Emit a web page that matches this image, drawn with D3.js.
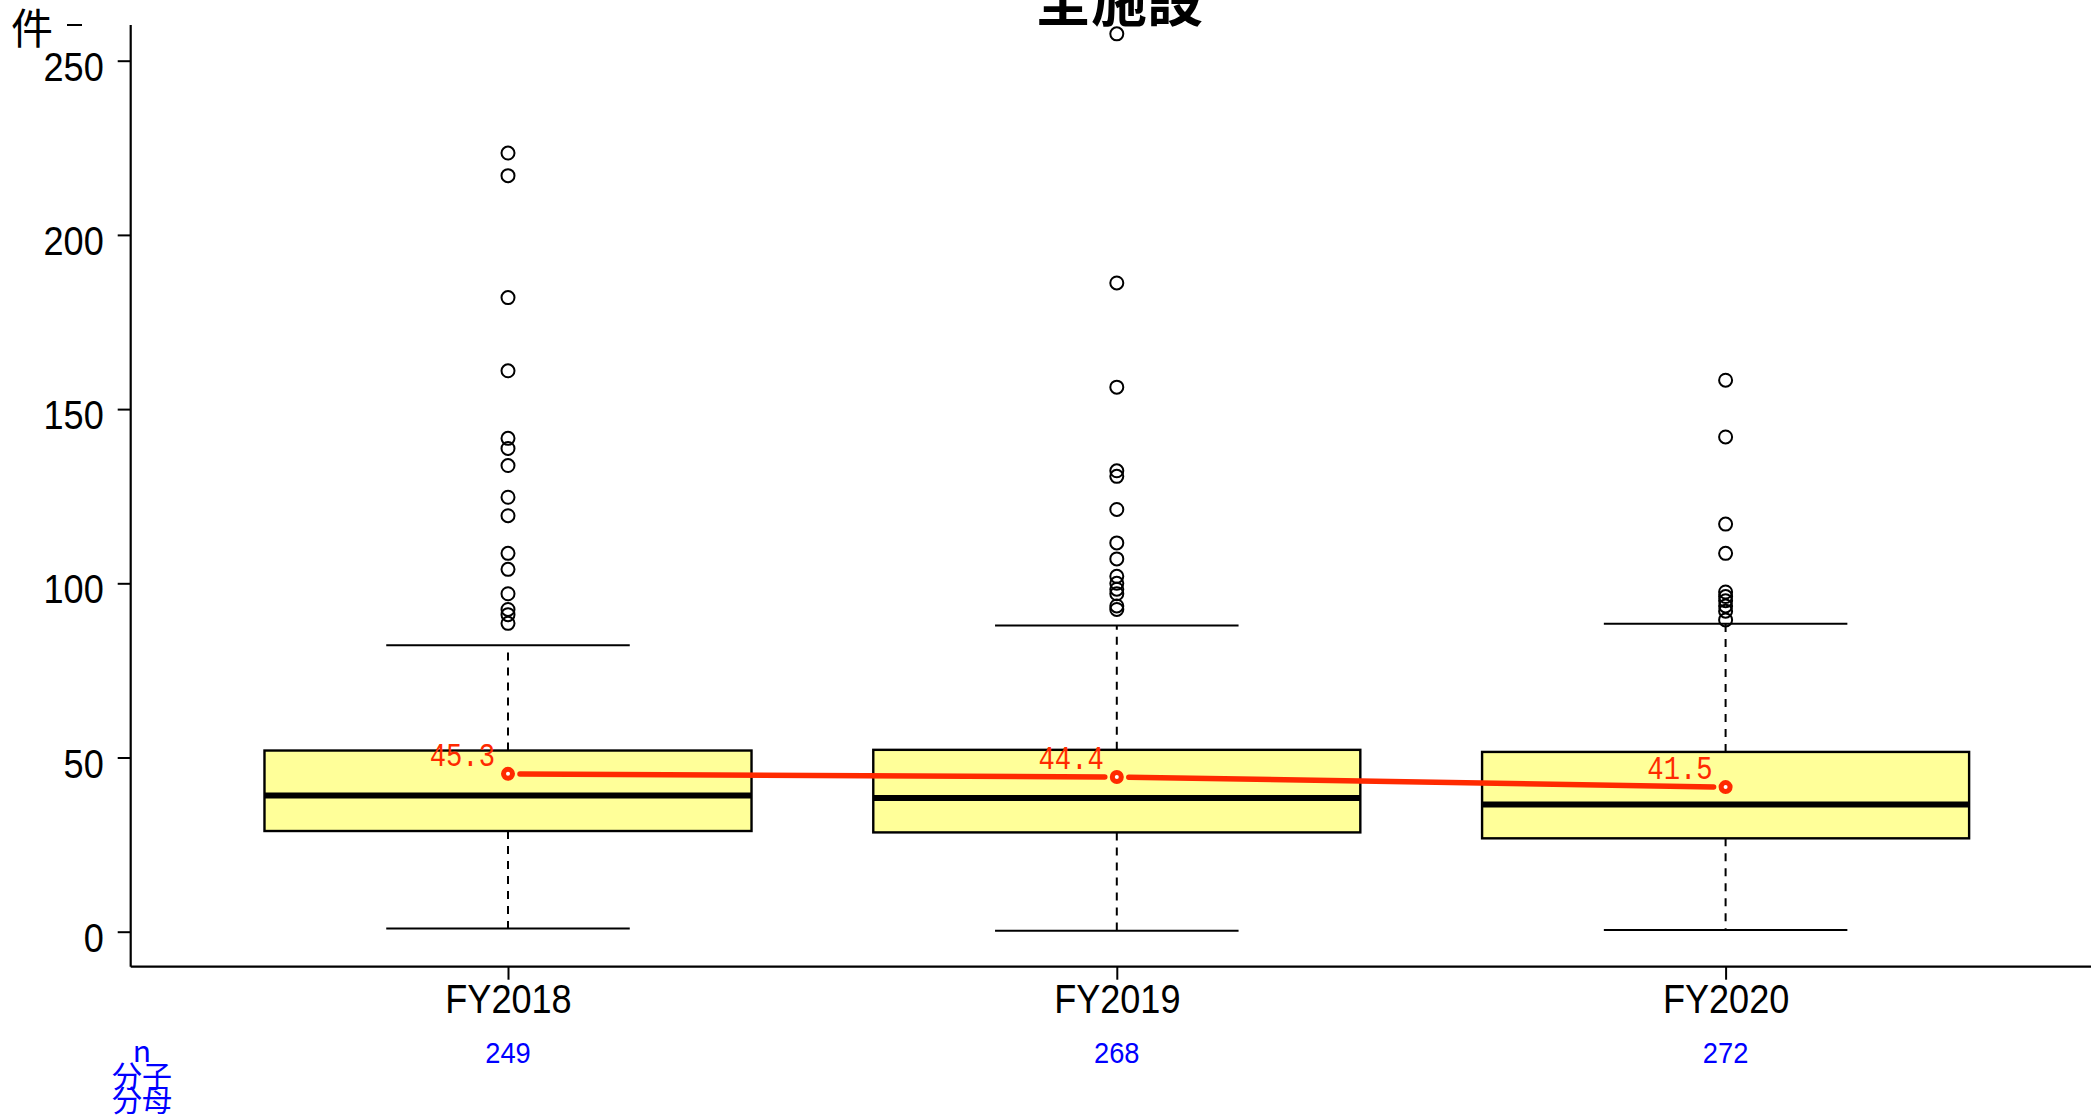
<!DOCTYPE html>
<html>
<head>
<meta charset="utf-8">
<script src="https://cdn.jsdelivr.net/npm/d3@7"></script>
<style>
  html, body { margin: 0; padding: 0; background: #ffffff; }
  svg { display: block; }
</style>
</head>
<body>
<svg id="chart" width="2091" height="1118"></svg>
<script>
// ---- data ----
const categories = ["FY2018", "FY2019", "FY2020"];
const q1Values = [28.9, 28.5, 26.8];
const medianValues = [39.1, 38.4, 36.5];
const q3Values = [52.0, 52.2, 51.6];
const whiskerLow = [0.9, 0.3, 0.5];
const whiskerHigh = [82.2, 87.9, 88.4];
const meanValues = [45.3, 44.4, 41.5];
const nCounts = [249, 268, 272];
const outliersFY2018 = [223.5, 217.0, 182.0, 161.0, 141.6, 138.7, 133.8, 124.7, 119.4, 108.6, 104.0, 97.0, 92.5, 91.0, 88.5];
const outliersFY2019 = [257.7, 186.2, 156.3, 132.3, 130.7, 121.2, 111.6, 107.0, 102.0, 100.0, 98.3, 97.0, 93.5, 92.5];
const outliersFY2020 = [158.3, 142.0, 117.0, 108.6, 97.5, 96.2, 95.0, 93.5, 92.0, 89.5];
const yTicks = [0, 50, 100, 150, 200, 250];
const titleText = "全施設";
const yLabel = "件";
const rowLabels = ["n", "分子", "分母"];

// ---- layout ----
const svg = d3.select("#chart");
svg.append("rect").attr("width", 2091).attr("height", 1118).attr("fill", "#fff");

const x = d3.scaleLinear().domain([1, 3]).range([508, 1725.6]);
const y = d3.scaleLinear().domain([0, 250]).range([931.7, 60.7]);
const axisX = 130.7, axisY = 966.7;
const red = "#ff2a00";

const boxes = categories.map((c, i) => ({
  c, i, pos: i + 1,
  q1: q1Values[i], med: medianValues[i], q3: q3Values[i],
  lo: whiskerLow[i], hi: whiskerHigh[i], mean: meanValues[i], n: nCounts[i]
}));
const outlierSets = [outliersFY2018, outliersFY2019, outliersFY2020];
const outliers = [];
outlierSets.forEach((arr, i) => arr.forEach(v => outliers.push({ pos: i + 1, v })));

// axes lines (L-shaped box)
svg.append("line").attr("x1", axisX).attr("x2", axisX).attr("y1", 25).attr("y2", axisY)
  .attr("stroke", "#000").attr("stroke-width", 2.2);
svg.append("line").attr("x1", axisX).attr("x2", 2091).attr("y1", axisY).attr("y2", axisY)
  .attr("stroke", "#000").attr("stroke-width", 2.2);

// y axis
const gy = svg.append("g").attr("transform", `translate(${axisX},0)`)
  .call(d3.axisLeft(y).tickValues(yTicks).tickSize(13).tickSizeOuter(0).tickFormat(d3.format("d")));
gy.select(".domain").remove();
gy.selectAll(".tick line").attr("stroke", "#000").attr("stroke-width", 2);
gy.selectAll(".tick text")
  .attr("x", 0).attr("dy", null).attr("y", 0)
  .attr("transform", "translate(-27,19.5) scale(0.88,1)")
  .attr("text-anchor", "end")
  .style("font-family", "'Liberation Sans', Arial, sans-serif")
  .style("font-size", "41px").attr("fill", "#000");

// x axis
const gx = svg.append("g").attr("transform", `translate(0,${axisY})`)
  .call(d3.axisBottom(x).tickValues([1, 2, 3]).tickSize(13).tickSizeOuter(0)
    .tickFormat(d => categories[d - 1]));
gx.select(".domain").remove();
gx.selectAll(".tick line").attr("stroke", "#000").attr("stroke-width", 2);
gx.selectAll(".tick text")
  .attr("y", 0).attr("dy", null)
  .attr("transform", "translate(0,46) scale(0.88,1)")
  .attr("text-anchor", "middle")
  .style("font-family", "'Liberation Sans', Arial, sans-serif")
  .style("font-size", "41px").attr("fill", "#000");

// y label "件" and the small dash
svg.append("text").attr("x", 11).attr("y", 44).text(yLabel)
  .style("font-family", "'Noto Sans CJK JP', sans-serif").style("font-size", "42px").attr("fill", "#000");
svg.append("line").attr("x1", 67).attr("x2", 82).attr("y1", 25).attr("y2", 25)
  .attr("stroke", "#000").attr("stroke-width", 2);

// title
svg.append("text").attr("x", 1119).attr("y", 21).attr("text-anchor", "middle").text(titleText)
  .style("font-family", "'Noto Sans CJK JP', sans-serif").style("font-weight", "bold")
  .style("font-size", "56px").attr("fill", "#000");

// whiskers
const g = svg.append("g");
g.selectAll(".wlo").data(boxes).join("line")
  .attr("x1", d => x(d.pos)).attr("x2", d => x(d.pos))
  .attr("y1", d => y(d.q1)).attr("y2", d => y(d.lo))
  .attr("stroke", "#000").attr("stroke-width", 2).attr("stroke-dasharray", "8,7");
g.selectAll(".whi").data(boxes).join("line")
  .attr("x1", d => x(d.pos)).attr("x2", d => x(d.pos))
  .attr("y1", d => y(d.q3)).attr("y2", d => y(d.hi))
  .attr("stroke", "#000").attr("stroke-width", 2).attr("stroke-dasharray", "8,7");
g.selectAll(".clo").data(boxes).join("line")
  .attr("x1", d => x(d.pos - 0.2)).attr("x2", d => x(d.pos + 0.2))
  .attr("y1", d => y(d.lo)).attr("y2", d => y(d.lo))
  .attr("stroke", "#000").attr("stroke-width", 2);
g.selectAll(".chi").data(boxes).join("line")
  .attr("x1", d => x(d.pos - 0.2)).attr("x2", d => x(d.pos + 0.2))
  .attr("y1", d => y(d.hi)).attr("y2", d => y(d.hi))
  .attr("stroke", "#000").attr("stroke-width", 2);

// boxes
g.selectAll(".box").data(boxes).join("rect")
  .attr("x", d => x(d.pos - 0.4)).attr("width", d => x(d.pos + 0.4) - x(d.pos - 0.4))
  .attr("y", d => y(d.q3)).attr("height", d => y(d.q1) - y(d.q3))
  .attr("fill", "#ffff99").attr("stroke", "#000").attr("stroke-width", 2.4);
g.selectAll(".med").data(boxes).join("line")
  .attr("x1", d => x(d.pos - 0.4)).attr("x2", d => x(d.pos + 0.4))
  .attr("y1", d => y(d.med)).attr("y2", d => y(d.med))
  .attr("stroke", "#000").attr("stroke-width", 6);

// outliers
g.selectAll(".out").data(outliers).join("circle")
  .attr("cx", d => x(d.pos)).attr("cy", d => y(d.v)).attr("r", 6.5)
  .attr("fill", "none").attr("stroke", "#000").attr("stroke-width", 2);

// mean line (type "b": segments with gaps)
const gap = 12;
const segs = [];
for (let i = 0; i < boxes.length - 1; i++) {
  const x0 = x(boxes[i].pos), y0 = y(boxes[i].mean);
  const x1 = x(boxes[i + 1].pos), y1 = y(boxes[i + 1].mean);
  const len = Math.hypot(x1 - x0, y1 - y0);
  const ux = (x1 - x0) / len, uy = (y1 - y0) / len;
  segs.push({ x0: x0 + ux * gap, y0: y0 + uy * gap, x1: x1 - ux * gap, y1: y1 - uy * gap });
}
g.selectAll(".mseg").data(segs).join("line")
  .attr("x1", d => d.x0).attr("y1", d => d.y0).attr("x2", d => d.x1).attr("y2", d => d.y1)
  .attr("stroke", red).attr("stroke-width", 5.5).attr("stroke-linecap", "round");
g.selectAll(".mdot").data(boxes).join("circle")
  .attr("cx", d => x(d.pos)).attr("cy", d => y(d.mean)).attr("r", 4.5)
  .attr("fill", "#fff").attr("stroke", red).attr("stroke-width", 5);
g.selectAll(".mlab").data(boxes).join("text")
  .attr("text-anchor", "end")
  .attr("transform", d => `translate(${x(d.pos) - 13},${y(d.mean) - 8}) scale(0.8,1)`)
  .text(d => d.mean.toFixed(1))
  .style("font-family", "'Liberation Mono', 'DejaVu Sans Mono', monospace")
  .style("font-size", "34px").attr("fill", red);

// n counts
g.selectAll(".ncount").data(boxes).join("text")
  .attr("text-anchor", "middle")
  .attr("transform", d => `translate(${x(d.pos)},1062.5) scale(0.94,1)`)
  .text(d => d.n)
  .style("font-family", "'Liberation Sans', Arial, sans-serif")
  .style("font-size", "29px").attr("fill", "#0000ff");

// row labels
const rowY = [1062, 1087, 1111];
svg.selectAll(".rowlab").data(rowLabels).join("text")
  .attr("x", 142).attr("y", (d, i) => rowY[i]).attr("text-anchor", "middle")
  .text(d => d)
  .style("font-family", "'Noto Sans CJK JP', 'Liberation Sans', sans-serif")
  .style("font-size", "30px").attr("fill", "#0000ff");
</script>
</body>
</html>
